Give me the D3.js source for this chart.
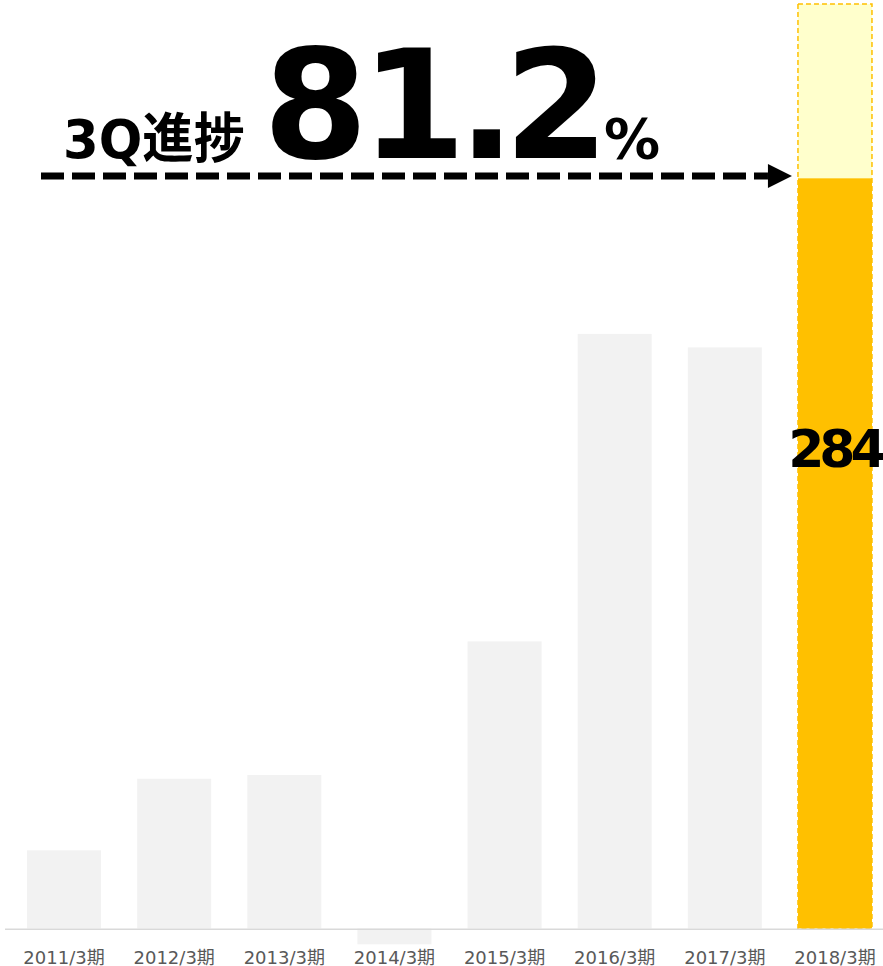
<!DOCTYPE html>
<html><head><meta charset="utf-8">
<script src="https://cdn.jsdelivr.net/npm/d3@7"></script>
<style>body{margin:0;background:#fff}svg{display:block}</style>
</head><body>
<script>
const categories = ["2011/3期","2012/3期","2013/3期","2014/3期","2015/3期","2016/3期","2017/3期","2018/3期"];
const actualValues = [29.6, 56.7, 58.1, -6.0, 108.7, 225.1, 220.0, 284];
const forecastCategory = "2018/3期";
const forecastValue = 350;
const progressLabel = "3Q進捗";
const progressValue = "81.2";
const progressUnit = "%";

const W = 883, H = 966;
const svg = d3.select("body").append("svg").attr("width", W).attr("height", H);

const x = d3.scaleBand().domain(categories).range([-9.1, 908.1]).paddingInner(0.328).paddingOuter(0.328);
const y = d3.scaleLinear().domain([0, forecastValue]).range([928.5, 4]);

// forecast background (2018)
svg.append("rect")
  .attr("x", x(forecastCategory)).attr("width", x.bandwidth())
  .attr("y", y(forecastValue)).attr("height", y(0) - y(forecastValue))
  .attr("fill", "#ffffcc");

// bars
svg.selectAll("rect.bar").data(categories.map((c,i)=>({c, v: actualValues[i]})))
  .enter().append("rect").attr("class","bar")
  .attr("x", d => x(d.c)).attr("width", x.bandwidth())
  .attr("y", d => y(Math.max(0, d.v)))
  .attr("height", d => Math.abs(y(d.v) - y(0)))
  .attr("fill", d => d.c === forecastCategory ? "#ffc000" : "#f2f2f2");

// dashed forecast outline
svg.append("rect")
  .attr("x", x(forecastCategory)).attr("width", x.bandwidth())
  .attr("y", y(forecastValue)).attr("height", y(0) - y(forecastValue))
  .attr("fill", "none").attr("stroke", "#ffc000").attr("stroke-width", 1.5)
  .attr("stroke-dasharray", "5,3");

// axis
const axis = svg.append("g").attr("transform", `translate(0,${y(0)+0.8})`)
  .call(d3.axisBottom(x).tickSize(0));
axis.select(".domain").remove();
axis.append("line").attr("x1", 5).attr("x2", 883).attr("y1", 0).attr("y2", 0)
  .attr("stroke", "#d9d9d9").attr("stroke-width", 1.5);
axis.selectAll(".tick text")
  .attr("y", 34.5).attr("dy", 0)
  .attr("fill", "#595959")
  .style("font-family", "'DejaVu Sans','Noto Sans CJK JP',sans-serif")
  .style("font-size", "18px");

// value label 284
const last = actualValues[categories.indexOf(forecastCategory)];
svg.append("text")
  .attr("x", x(forecastCategory) + x.bandwidth()/2).attr("y", 467)
  .attr("text-anchor", "middle")
  .style("font-family", "'DejaVu Sans',sans-serif").style("font-weight", "bold")
  .style("font-size", "52px").style("letter-spacing", "-5px")
  .attr("fill", "#000").text(d3.format("d")(last));

// dashed arrow
const arrowY = 176;
const arrowEnd = x(forecastCategory) - 6;
svg.append("line").attr("x1", 41).attr("x2", arrowEnd - 24).attr("y1", arrowY).attr("y2", arrowY)
  .attr("stroke", "#000").attr("stroke-width", 7).attr("stroke-dasharray", "23,8");
svg.append("path")
  .attr("d", `M${arrowEnd-24},${arrowY-12}L${arrowEnd},${arrowY}L${arrowEnd-24},${arrowY+12}Z`)
  .attr("fill", "#000");

// title
svg.append("text").attr("x", 63).attr("y", 158)
  .attr("textLength", 182).attr("lengthAdjust", "spacingAndGlyphs")
  .style("font-family", "'DejaVu Sans','Noto Sans CJK JP',sans-serif").style("font-weight", "bold")
  .style("font-size", "54px").attr("fill", "#000").text(progressLabel);

// big number: place each glyph so its ink starts where the reference shows
const bigFont = "bold 151px 'DejaVu Sans'";
const ctx = document.createElement("canvas").getContext("2d");
ctx.font = bigFont;
const inkLefts = [272, 378, 473, 515];
const big = svg.append("text").attr("y", 158)
  .style("font-family", "'DejaVu Sans',sans-serif").style("font-weight", "bold")
  .style("font-size", "151px").attr("fill", "#000");
progressValue.split("").forEach((ch, i) => {
  const m = ctx.measureText(ch);
  big.append("tspan").attr("x", inkLefts[i] + m.actualBoundingBoxLeft).text(ch);
});

svg.append("text").attr("x", 604).attr("y", 158)
  .style("font-family", "'DejaVu Sans',sans-serif").style("font-weight", "bold")
  .style("font-size", "56px").attr("fill", "#000").text(progressUnit);
</script>
</body></html>
